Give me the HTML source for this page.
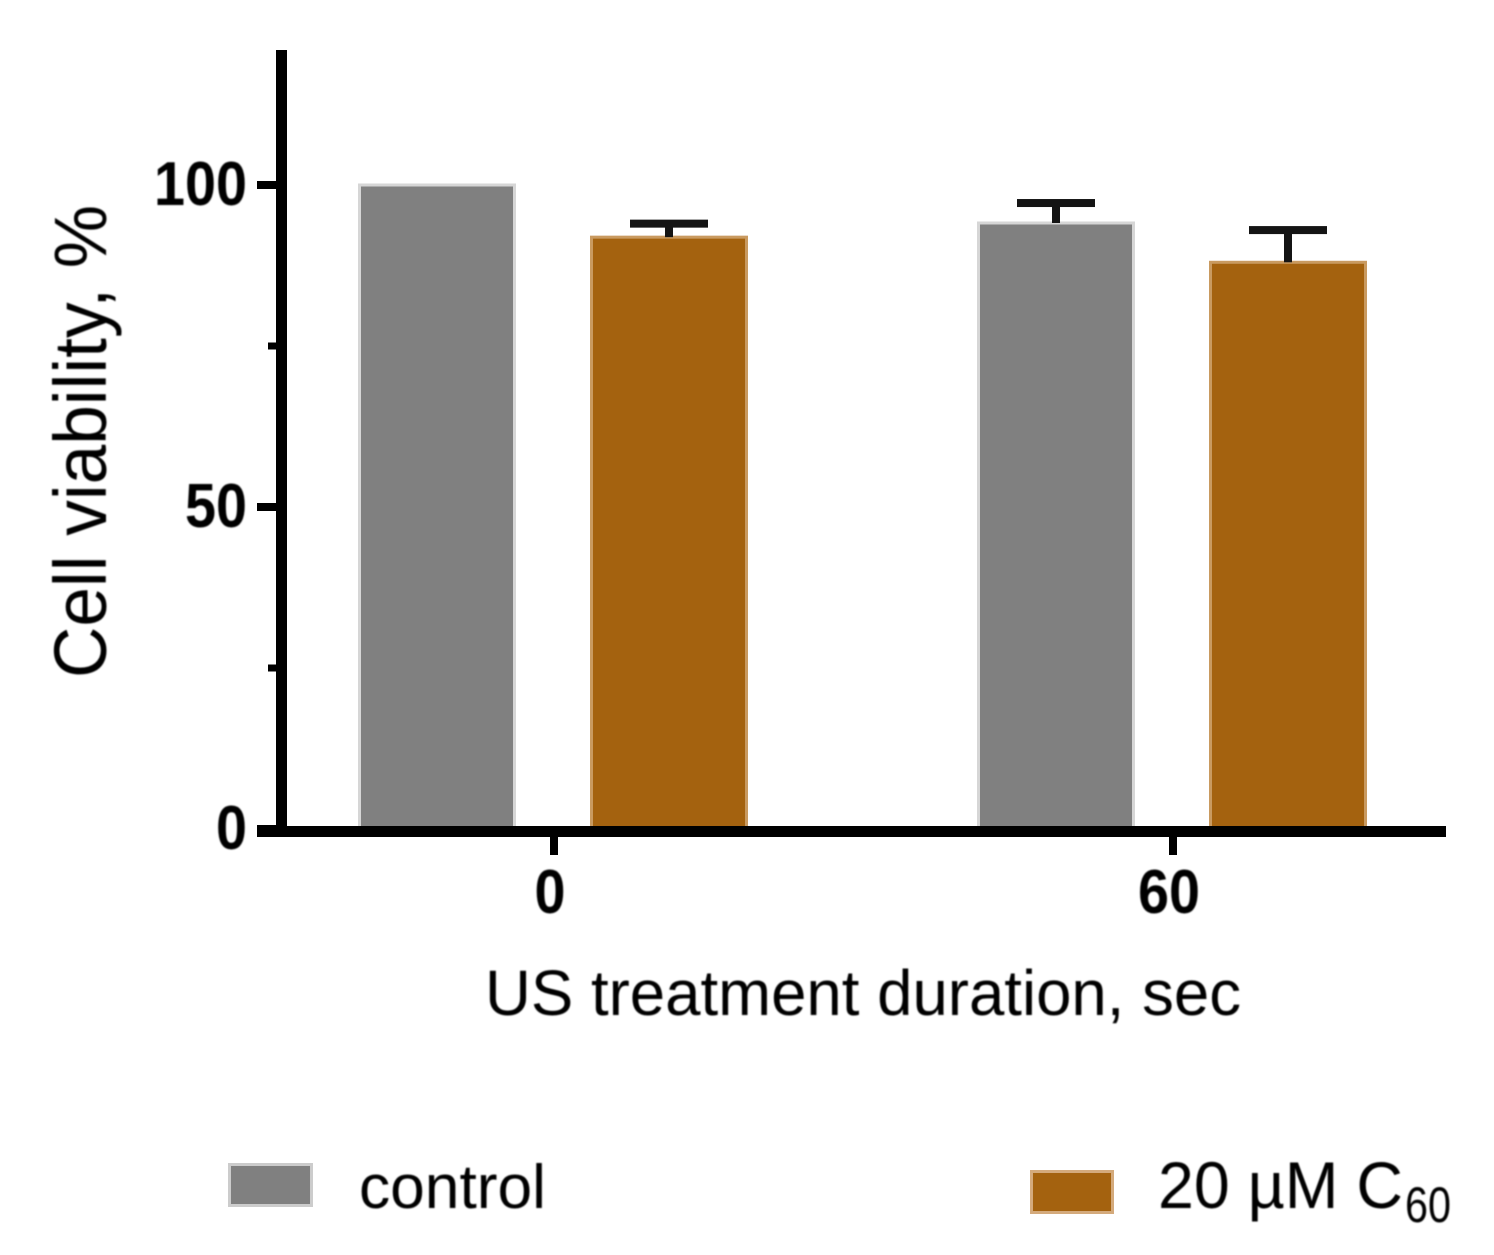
<!DOCTYPE html>
<html>
<head>
<meta charset="utf-8">
<title>Cell viability chart</title>
<style>
html,body{margin:0;padding:0;background:#fff;width:1494px;height:1255px;overflow:hidden}
svg{display:block}
text{font-family:"Liberation Sans",sans-serif;fill:#050505}
.tick{font-weight:700}
</style>
</head>
<body>
<svg id="chart" xmlns="http://www.w3.org/2000/svg" width="1494" height="1255" viewBox="0 0 1494 1255">
<defs><filter id="soft" x="-5%" y="-5%" width="110%" height="110%"><feGaussianBlur stdDeviation="0.8"/></filter></defs>
<g id="bars"></g>
<g id="errors"></g>
<g id="axes"></g>
<g id="labels" filter="url(#soft)"></g>
<g filter="url(#soft)">
<text transform="translate(106,678) rotate(-90)" font-size="74" textLength="473" lengthAdjust="spacingAndGlyphs">Cell viability, %</text>
<text x="485" y="1015" font-size="64" textLength="756" lengthAdjust="spacingAndGlyphs">US treatment duration, sec</text>
<text x="359" y="1208" font-size="62" textLength="187" lengthAdjust="spacingAndGlyphs">control</text>
<text x="1158" y="1208" font-size="66" textLength="245" lengthAdjust="spacingAndGlyphs">20 µM C</text>
<text x="1405" y="1222" font-size="50" textLength="46" lengthAdjust="spacingAndGlyphs">60</text>
</g>
<rect x="229.5" y="1164.5" width="82" height="41" fill="#808080" stroke="#cccccc" stroke-width="3"/>
<rect x="1031.5" y="1171.5" width="81" height="41" fill="#a4620f" stroke="#d4aa7c" stroke-width="3"/>
</svg>
<script>
const categories = ["0", "60"];
const seriesNames = ["control", "c60"];
const controlValues = [100, 94.1];
const c60Values = [91.9, 88];
const controlErrors = [0, 3.1];
const c60Errors = [2.1, 5];
const yMajorTicks = [0, 50, 100];
const yMinorTicks = [25, 75];

const NS = "http://www.w3.org/2000/svg";
function yScale(v) { return 829 - v * 6.44; }
function xScale(i) { return 553 + i * 619; }
function make(tag, attrs, parent) {
  const el = document.createElementNS(NS, tag);
  for (const k in attrs) el.setAttribute(k, attrs[k]);
  parent.appendChild(el);
  return el;
}
const barsG = document.getElementById("bars");
const errG = document.getElementById("errors");
const axesG = document.getElementById("axes");
const labelsG = document.getElementById("labels");

const seriesValues = [controlValues, c60Values];
const seriesErrors = [controlErrors, c60Errors];
const seriesFill = ["#808080", "#a4620f"];
const seriesEdge = ["#d6d6d6", "#c99a60"];
const seriesOffset = [-116, 116];
const barWidth = 155;

categories.forEach(function (cat, i) {
  seriesNames.forEach(function (name, s) {
    const v = seriesValues[s][i];
    const cx = xScale(i) + seriesOffset[s];
    const top = yScale(v);
    const bar = make("rect", {x: cx - barWidth / 2, y: top, width: barWidth, height: yScale(0) - top, fill: seriesFill[s], stroke: seriesEdge[s], "stroke-width": 3}, barsG);
    
    
    const e = seriesErrors[s][i];
    if (e > 0) {
      const capY = yScale(v + e);
      const stem = make("rect", {x: cx - 4, y: capY, width: 8, height: top - capY, fill: "#141414"}, errG);
      
      
      const cap = make("rect", {x: cx - 39, y: capY - 4, width: 78, height: 8, fill: "#141414"}, errG);
      
      
    }
  });
  const tick = make("rect", {x: xScale(i) - 3, y: 836, width: 8, height: 19, fill: "#000"}, axesG);
  
  
  const label = make("text", {x: xScale(i) - 3, y: 913, "font-size": 62, "text-anchor": "middle", "class": "tick", textLength: cat.length * 31, lengthAdjust: "spacingAndGlyphs"}, labelsG);
  label.textContent = cat;
  
  
});

const yLine = make("rect", {x: 276, y: 50, width: 11, height: 787, fill: "#000"}, axesG);


const xLine = make("rect", {x: 257, y: 826, width: 1189, height: 11, fill: "#000"}, axesG);



yMajorTicks.forEach(function (v) {
  const t = make("rect", {x: 257, y: yScale(v) - 4, width: 20, height: 8, fill: "#000"}, axesG);
  
  
  const label = make("text", {x: 247, y: yScale(v) + 20, "font-size": 62, "text-anchor": "end", "class": "tick", textLength: String(v).length * 31, lengthAdjust: "spacingAndGlyphs"}, labelsG);
  label.textContent = String(v);
  
  
});
yMinorTicks.forEach(function (v) {
  const t = make("rect", {x: 268, y: yScale(v) - 3.5, width: 9, height: 7, fill: "#000"}, axesG);
  
  
});
</script>
</body>
</html>
